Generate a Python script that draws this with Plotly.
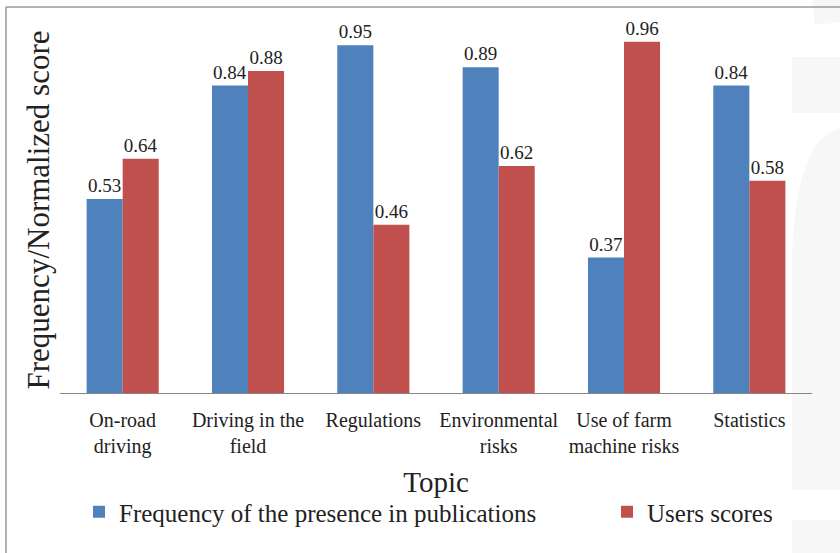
import plotly.graph_objects as go

# Topics and the two scores per topic
topics = ["On-road<br>driving", "Driving in the<br>field", "Regulations",
          "Environmental<br>risks", "Use of farm<br>machine risks", "Statistics"]
publication_freq = [0.53, 0.84, 0.95, 0.89, 0.37, 0.84]
user_scores = [0.64, 0.88, 0.46, 0.62, 0.96, 0.58]

W, H = 840, 553
L, R, T, B = 60, 28, 27, 160
FONT = "Liberation Serif"
TXT = "#222222"

fig = go.Figure()
fig.add_bar(x=topics, y=publication_freq, name="Frequency of the presence in publications",
            marker=dict(color="#4F81BD", line=dict(width=0)),
            text=[f"{v:.2f}" for v in publication_freq], textposition="outside",
            textfont=dict(family=FONT, size=19, color=TXT), cliponaxis=False,
            legend="legend")
fig.add_bar(x=topics, y=user_scores, name="Users scores",
            marker=dict(color="#C0504D", line=dict(width=0)),
            text=[f"{v:.2f}" for v in user_scores], textposition="outside",
            textfont=dict(family=FONT, size=19, color=TXT), cliponaxis=False,
            legend="legend2")

# pixel -> paper helpers for the frame lines and legend placement
pw, ph = W - L - R, H - T - B
px = lambda x: (x - L) / pw
py = lambda y: (H - B - y) / ph

frame = dict(color="#9a9a9a", width=1.5)
shapes = [
    dict(type="line", xref="paper", yref="paper", x0=px(6), x1=px(W), y0=py(7), y1=py(7), line=frame),
    dict(type="line", xref="paper", yref="paper", x0=px(6), x1=px(6), y0=py(7), y1=py(H), line=frame),
]
# faint background marks along the right edge
faint = "#f7f7f7"
for y0, y1 in [(57, 113), (520, 553)]:
    shapes.append(dict(type="rect", xref="paper", yref="paper", layer="below",
                       x0=px(792), x1=px(W), y0=py(y1), y1=py(y0),
                       fillcolor=faint, line=dict(width=0)))
shapes.append(dict(type="path", xref="paper", yref="paper", layer="below",
                   path=f"M {px(792)},{py(490)} L {px(792)},{py(260)} "
                        f"Q {px(795)},{py(140)} {px(W)},{py(128)} L {px(W)},{py(490)} Z",
                   fillcolor=faint, line=dict(width=0)))
shapes.append(dict(type="path", xref="paper", yref="paper", layer="below",
                   path=f"M {px(812)},{py(0)} L {px(W)},{py(0)} L {px(W)},{py(22)} L {px(815)},{py(25)} Z",
                   fillcolor=faint, line=dict(width=0)))

leg = dict(orientation="h", yanchor="middle", xanchor="left",
           font=dict(family=FONT, size=25, color=TXT), bgcolor="rgba(0,0,0,0)",
           itemwidth=30, borderwidth=0)

fig.update_layout(
    width=W, height=H,
    margin=dict(l=L, r=R, t=T, b=B, autoexpand=False),
    paper_bgcolor="white", plot_bgcolor="rgba(0,0,0,0)",
    barmode="group", bargap=0.425, bargroupgap=0,
    font=dict(family=FONT, color=TXT),
    shapes=shapes,
    showlegend=True,
    legend=dict(leg, x=px(79), y=py(512)),
    legend2=dict(leg, x=px(607), y=py(512)),
)
fig.update_xaxes(showline=True, linecolor="#868686", linewidth=1.2, ticks="",
                 showgrid=False, tickfont=dict(family=FONT, size=20, color=TXT),
                 ticklabelstandoff=9,
                 title=dict(text="Topic", font=dict(family=FONT, size=29, color=TXT), standoff=14))
fig.update_yaxes(range=[0, 1], showticklabels=False, showgrid=False, zeroline=False,
                 showline=False, ticks="",
                 title=dict(text="Frequency/Normalized score",
                            font=dict(family=FONT, size=31, color=TXT), standoff=0))

fig.write_html("out.html")
